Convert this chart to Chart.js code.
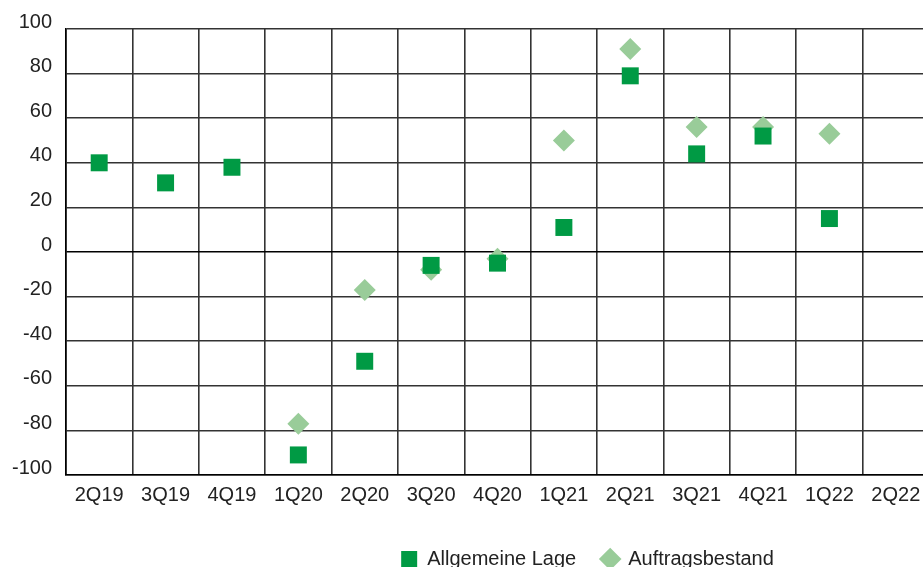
<!DOCTYPE html>
<html>
<head>
<meta charset="utf-8">
<script src="https://cdn.jsdelivr.net/npm/chart.js@4"></script>
<style>
html, body { margin: 0; padding: 0; background: #fff; overflow: hidden; }
#wrap { width: 941px; height: 567px; }
</style>
</head>
<body>
<div id="wrap"><canvas id="chart"></canvas></div>
<script>
// quarters on the x axis
const quarters = ['2Q19', '3Q19', '4Q19', '1Q20', '2Q20', '3Q20', '4Q20', '1Q21', '2Q21', '3Q21', '4Q21', '1Q22', '2Q22']

// series values
const allgemeineLage = [40, 31, 38, -91, -49, -6, -5, 11, 79, 44, 52, 15, null]
const auftragsbestand = [null, null, null, -77, -17, -8, -3, 50, 91, 56, 56, 53, null]

// y axis range
const yMin = -100
const yMax = 100
const yStep = 20

const font = { family: 'Liberation Sans', size: 20 }
const gridColor = '#333'

// move the legend a bit right / down, like the original
const legendShift = {
    id: 'legendShift',
    afterLayout(chart) {
        const l = chart.legend
        const dx = 117, dy = 8
        l.left += dx; l.right += dx
        l.top += dy; l.bottom += dy
    }
}

new Chart(document.getElementById('chart'), {
    type: 'line',
    data: {
        labels: quarters,
        datasets: [
            {
                label: 'Allgemeine Lage',
                data: allgemeineLage,
                showLine: false,
                pointStyle: 'rect',
                pointRadius: 12,
                pointBorderWidth: 0,
                backgroundColor: '#009a44',
                borderColor: '#009a44'
            },
            {
                label: 'Auftragsbestand',
                data: auftragsbestand,
                showLine: false,
                pointStyle: 'rectRot',
                pointRadius: 11,
                pointBorderWidth: 0,
                backgroundColor: '#99cc99',
                borderColor: '#99cc99'
            }
        ]
    },
    options: {
        responsive: true,
        maintainAspectRatio: false,
        animation: false,
        events: [],
        layout: { padding: { top: 29, right: 0, left: 0, bottom: 0 } },
        scales: {
            x: {
                offset: true,
                afterFit(axis) { axis.paddingLeft = 0; axis.paddingRight = 0 },
                grid: { offset: true, color: gridColor, lineWidth: 1.6, drawTicks: false },
                border: { color: '#000', width: 1.6 },
                ticks: { color: '#222', font: font, padding: 8, maxRotation: 0, autoSkip: false }
            },
            y: {
                min: yMin,
                max: yMax,
                afterFit(axis) { axis.width = 66 },
                grid: {
                    color: c => c.tick.value === 0 ? '#000' : gridColor,
                    lineWidth: 1.6,
                    drawTicks: false
                },
                border: { color: '#000', width: 1.6 },
                ticks: { stepSize: yStep, color: '#222', font: font, padding: 14, labelOffset: -7 }
            }
        },
        plugins: {
            tooltip: { enabled: false },
            legend: {
                position: 'bottom',
                maxHeight: 52,
                labels: {
                    usePointStyle: true,
                    boxHeight: 16,
                    boxWidth: 16,
                    padding: 26,
                    color: '#222',
                    font: font
                }
            }
        }
    },
    plugins: [legendShift]
})
</script>
</body>
</html>
